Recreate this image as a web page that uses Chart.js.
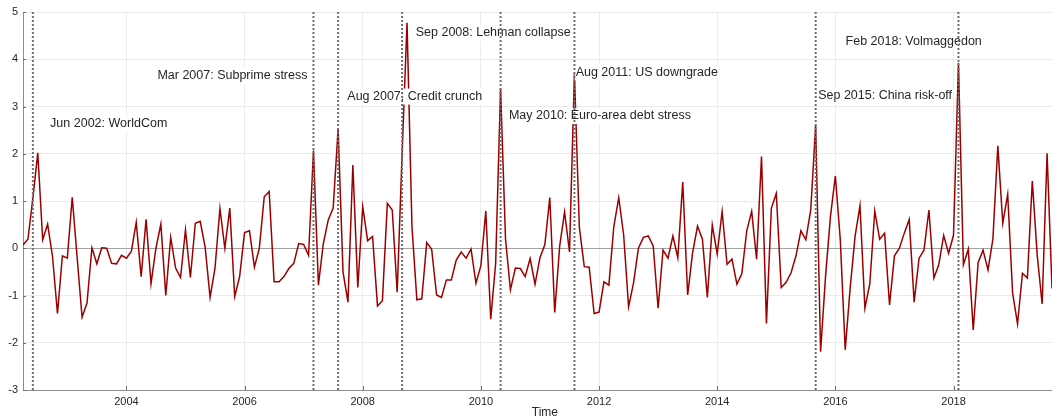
<!DOCTYPE html>
<html>
<head>
<meta charset="utf-8">
<script src="https://cdn.jsdelivr.net/npm/chart.js@4.4.1/dist/chart.umd.min.js"></script>
<style>
  html, body { margin: 0; padding: 0; background: #fff; }
  #wrap { width: 1052px; height: 419px; }
</style>
</head>
<body>
<div id="wrap"><canvas id="chart"></canvas></div>
<script>
// monthly series, first point Apr 2002
const startYear = 2002
const startMonth = 4
const values = [
  0.07, 0.19, 1.05, 2.02, 0.18, 0.51, -0.18, -1.38, -0.16, -0.21, 1.08, -0.2,
  -1.46, -1.16, 0.01, -0.33, 0.01, 0.0, -0.32, -0.33, -0.15, -0.21, -0.07, 0.55,
  -0.6, 0.61, -0.75, 0.0, 0.51, -1.0, 0.23, -0.42, -0.62, 0.39, -0.62, 0.53,
  0.57, 0.02, -1.04, -0.42, 0.84, 0.0, 0.85, -1.02, -0.6, 0.33, 0.37, -0.4,
  0.0, 1.09, 1.2, -0.71, -0.71, -0.6, -0.43, -0.32, 0.1, 0.08, -0.15, 2.07,
  -0.78, 0.1, 0.6, 0.85, 2.52, -0.5, -1.14, 1.76, -0.83, 0.88, 0.16, 0.25,
  -1.22, -1.11, 0.95, 0.81, -0.93, 2.0, 4.77, 0.46, -1.09, -1.07, 0.12, -0.02,
  -0.99, -1.04, -0.67, -0.67, -0.25, -0.08, -0.21, -0.02, -0.74, -0.37, 0.79, -1.5,
  -0.32, 3.38, 0.2, -0.88, -0.42, -0.43, -0.6, -0.22, -0.76, -0.2, 0.08, 1.07,
  -1.36, 0.04, 0.77, -0.08, 3.7, 0.44, -0.39, -0.4, -1.38, -1.35, -0.71, -0.78,
  0.46, 1.07, 0.28, -1.24, -0.74, 0.0, 0.23, 0.26, 0.05, -1.27, -0.04, -0.21,
  0.26, -0.2, 1.4, -0.99, -0.1, 0.47, 0.19, -1.04, 0.49, -0.12, 0.78, -0.34,
  -0.23, -0.76, -0.54, 0.37, 0.78, -0.23, 1.94, -1.59, 0.85, 1.16, -0.83, -0.72,
  -0.52, -0.16, 0.37, 0.18, 0.81, 2.6, -2.19, -0.6, 0.67, 1.53, 0.18, -2.15,
  -0.85, 0.25, 0.9, -1.27, -0.75, 0.79, 0.19, 0.32, -1.2, -0.16, 0.0, 0.32,
  0.61, -1.14, -0.21, -0.04, 0.81, -0.63, -0.35, 0.27, -0.11, 0.28, 3.92, -0.35,
  -0.02, -1.73, -0.3, -0.04, -0.46, 0.2, 2.17, 0.53, 1.14, -0.95, -1.6, -0.53,
  -0.63, 1.42, -0.15, -1.18, 2.01, -0.85
]
const xTicks = [2004, 2006, 2008, 2010, 2012, 2014, 2016, 2018]
const yTicks = [-3, -2, -1, 0, 1, 2, 3, 4, 5]

// stress events: [year, month]
const eventDates = [[2002, 6], [2007, 3], [2007, 8], [2008, 9], [2010, 5], [2011, 8], [2015, 9], [2018, 2]]
const eventLabels = [
  'Jun 2002: WorldCom',
  'Mar 2007: Subprime stress',
  'Aug 2007: Credit crunch',
  'Sep 2008: Lehman collapse',
  'May 2010: Euro-area debt stress',
  'Aug 2011: US downgrade',
  'Sep 2015: China risk-off',
  'Feb 2018: Volmaggedon'
]
// where each label's left edge / middle sits, in axis units
const labelSpots = [
  [2002.709, 2.64], [2004.525, 3.65], [2007.739, 3.21], [2008.897, 4.56],
  [2010.475, 2.80], [2011.604, 3.72], [2015.709, 3.23], [2016.173, 4.37]
]

const toYear = (y, m) => y + (m - 1) / 12
const points = values.map((v, i) => ({x: toYear(startYear, startMonth + i), y: v}))
const lastX = points[points.length - 1].x

const textColor = '#262626'
const fontFamily = '"Liberation Sans", Arial, Helvetica, sans-serif'

const eventsPlugin = {
  id: 'events',
  afterDatasetsDraw(chart) {
    const {ctx, chartArea, scales: {x, y}} = chart
    ctx.save()

    // inward tick marks, matlab style
    ctx.strokeStyle = '#6b6b6b'
    ctx.lineWidth = 1
    ctx.beginPath()
    yTicks.forEach(t => {
      const py = Math.round(y.getPixelForValue(t)) + 0.5
      ctx.moveTo(chartArea.left, py)
      ctx.lineTo(chartArea.left + 3, py)
    })
    xTicks.forEach(t => {
      const px = Math.round(x.getPixelForValue(t)) + 0.5
      ctx.moveTo(px, chartArea.bottom)
      ctx.lineTo(px, chartArea.bottom - 4)
    })
    ctx.stroke()

    // label boxes
    ctx.font = '12.5px ' + fontFamily
    ctx.textBaseline = 'middle'
    ctx.textAlign = 'left'
    eventLabels.forEach((txt, i) => {
      const px = x.getPixelForValue(labelSpots[i][0])
      const py = y.getPixelForValue(labelSpots[i][1])
      const w = ctx.measureText(txt).width
      ctx.fillStyle = '#ffffff'
      ctx.fillRect(px - 1, py - 8, w + 2, 16)
      ctx.fillStyle = textColor
      ctx.fillText(txt, px, py)
    })

    // dotted event lines
    ctx.strokeStyle = '#6e6e6e'
    ctx.lineWidth = 2
    ctx.setLineDash([2, 2])
    eventDates.forEach(([yr, mo]) => {
      const px = x.getPixelForValue(toYear(yr, mo))
      ctx.beginPath()
      ctx.moveTo(px, chartArea.top)
      ctx.lineTo(px, chartArea.bottom)
      ctx.stroke()
    })
    ctx.setLineDash([])

    // axis title, centred on the full (cropped) axis that runs to Dec 2019
    const axisEnd = x.getPixelForValue(toYear(2019, 12))
    ctx.font = '12px ' + fontFamily
    ctx.fillStyle = textColor
    ctx.textAlign = 'center'
    ctx.fillText('Time', (chartArea.left + axisEnd) / 2, 413)
    ctx.restore()
  }
}

new Chart(document.getElementById('chart'), {
  type: 'line',
  data: {
    datasets: [{
      data: points,
      borderColor: '#9b0000',
      borderWidth: 1.5,
      pointRadius: 0,
      tension: 0,
      fill: false
    }]
  },
  options: {
    responsive: true,
    maintainAspectRatio: false,
    animation: false,
    events: [],
    layout: {padding: {top: 12, right: 0, bottom: 0, left: 0}},
    plugins: {legend: {display: false}, tooltip: {enabled: false}},
    scales: {
      x: {
        type: 'linear',
        min: points[0].x,
        max: lastX,
        afterBuildTicks: s => { s.ticks = xTicks.map(v => ({value: v})) },
        afterFit: s => { s.height = 29 },
        grid: {color: '#ebebeb', drawTicks: false},
        border: {color: '#8c8c8c'},
        ticks: {
          padding: 5,
          color: textColor,
          font: {size: 11, family: fontFamily},
          maxRotation: 0,
          callback: v => String(v)
        }
      },
      y: {
        min: -3,
        max: 5,
        afterBuildTicks: s => { s.ticks = yTicks.map(v => ({value: v})) },
        afterFit: s => { s.width = 23 },
        grid: {
          color: c => c.tick && c.tick.value === 0 ? '#a3a3a3' : '#ebebeb',
          drawTicks: false
        },
        border: {color: '#8c8c8c'},
        ticks: {
          padding: 5,
          color: textColor,
          font: {size: 11, family: fontFamily}
        }
      }
    }
  },
  plugins: [eventsPlugin]
})
</script>
</body>
</html>
